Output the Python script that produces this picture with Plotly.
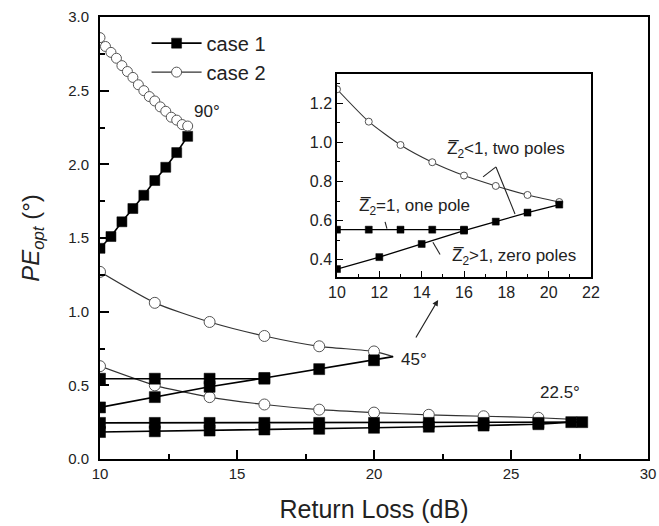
import plotly.graph_objects as go

# ---------------- data ----------------
# 90 degrees
x90_c1 = [10.0, 10.4, 10.8, 11.2, 11.6, 12.0, 12.4, 12.8, 13.2]
y90_c1 = [1.43, 1.51, 1.61, 1.70, 1.79, 1.89, 1.98, 2.08, 2.19]
x90_c2 = [10.0, 10.2, 10.4, 10.6, 10.8, 11.0, 11.2, 11.4, 11.6, 11.8, 12.0,
          12.2, 12.4, 12.6, 12.8, 13.0, 13.2]
y90_c2 = [2.86, 2.80, 2.76, 2.72, 2.67, 2.63, 2.59, 2.54, 2.50, 2.46, 2.43,
          2.39, 2.36, 2.32, 2.30, 2.27, 2.26]

# 45 degrees
x45_c2 = [10, 12, 14, 16, 18, 20, 20.7]
y45_c2 = [1.27, 1.06, 0.93, 0.835, 0.765, 0.73, 0.695]
x45_c1_one = [10, 12, 14, 16]
y45_c1_one = [0.545, 0.545, 0.545, 0.545]
x45_c1_zero = [10, 12, 14, 16, 18, 20, 20.7]
y45_c1_zero = [0.35, 0.42, 0.49, 0.55, 0.61, 0.67, 0.695]

# 22.5 degrees
x22_c2 = [10, 12, 14, 16, 18, 20, 22, 24, 26, 27.7]
y22_c2 = [0.63, 0.50, 0.42, 0.37, 0.335, 0.315, 0.30, 0.29, 0.28, 0.265]
x22_c1_one = [10, 12, 14, 16, 18, 20, 22, 24, 26, 27.6]
y22_c1_one = [0.245, 0.245, 0.245, 0.245, 0.245, 0.245, 0.245, 0.245, 0.245, 0.25]
x22_c1_zero = [10, 12, 14, 16, 18, 20, 22, 24, 26, 27.2]
y22_c1_zero = [0.183, 0.188, 0.193, 0.20, 0.205, 0.212, 0.219, 0.227, 0.236, 0.25]

# inset (45 degrees, magnified)
xi_c2 = [10, 11.5, 13, 14.5, 16, 17.5, 19, 20.5]
yi_c2 = [1.27, 1.105, 0.986, 0.898, 0.83, 0.777, 0.731, 0.695]
xi_c1_one = [10, 11.5, 13, 14.5, 16]
yi_c1_one = [0.554, 0.554, 0.554, 0.554, 0.554]
xi_c1_zero = [10, 12, 14, 16, 17.5, 19, 20.5]
yi_c1_zero = [0.353, 0.414, 0.481, 0.549, 0.595, 0.641, 0.682]

main_xticks = [10, 15, 20, 25, 30]
main_yticks = [0.0, 0.5, 1.0, 1.5, 2.0, 2.5, 3.0]
inset_xticks = [10, 12, 14, 16, 18, 20, 22]
inset_yticks = [0.4, 0.6, 0.8, 1.0, 1.2]

FONT = "Liberation Sans, Arial, sans-serif"
C1_LINE = dict(color="#000000", width=1.6)
C2_LINE = dict(color="#333333", width=1.2)


def sizes(n, s, last_hidden=False):
    out = [s] * n
    if last_hidden:
        out[-1] = 0
    return out


def sq(n, s, last_hidden=False):
    return dict(symbol="square", color="#000000", opacity=1, size=sizes(n, s, last_hidden),
                line=dict(color="#000000", width=0.5))


def ci(n, s, last_hidden=False):
    return dict(symbol="circle", color="#ffffff", opacity=1, size=sizes(n, s, last_hidden),
                line=dict(color="#555555", width=1))


fig = go.Figure()

# legend entries first
fig.add_trace(go.Scatter(x=x90_c1, y=y90_c1, mode="lines+markers", name="case 1",
                         legendgroup="c1", line=C1_LINE, marker=sq(len(x90_c1), 10)))
fig.add_trace(go.Scatter(x=x90_c2, y=y90_c2, mode="lines+markers", name="case 2",
                         legendgroup="c2", line=C2_LINE, marker=ci(len(x90_c2), 10)))

main = [
    (x45_c2, y45_c2, "c2", True, 11),
    (x22_c2, y22_c2, "c2", True, 11),
    (x45_c1_one, y45_c1_one, "c1", False, 11),
    (x45_c1_zero, y45_c1_zero, "c1", True, 11),
    (x22_c1_one, y22_c1_one, "c1", False, 11),
    (x22_c1_zero, y22_c1_zero, "c1", False, 11),
]
for xs, ys, grp, hide_last, s in main:
    if grp == "c1":
        fig.add_trace(go.Scatter(x=xs, y=ys, mode="lines+markers", showlegend=False,
                                 legendgroup=grp, line=C1_LINE, marker=sq(len(xs), s, hide_last)))
    else:
        fig.add_trace(go.Scatter(x=xs, y=ys, mode="lines+markers", showlegend=False,
                                 legendgroup=grp, line=dict(C2_LINE, shape="spline", smoothing=0.6),
                                 marker=ci(len(xs), s, hide_last)))

# inset
fig.add_trace(go.Scatter(x=xi_c2, y=yi_c2, mode="lines+markers", showlegend=False,
                         xaxis="x2", yaxis="y2",
                         line=dict(color="#333333", width=1.1, shape="spline", smoothing=0.6),
                         marker=ci(len(xi_c2), 7)))
fig.add_trace(go.Scatter(x=xi_c1_one, y=yi_c1_one, mode="lines+markers", showlegend=False,
                         xaxis="x2", yaxis="y2", line=dict(color="#000000", width=1.3),
                         marker=sq(len(xi_c1_one), 7)))
fig.add_trace(go.Scatter(x=xi_c1_zero, y=yi_c1_zero, mode="lines+markers", showlegend=False,
                         xaxis="x2", yaxis="y2", line=dict(color="#000000", width=1.3),
                         marker=sq(len(xi_c1_zero), 7)))

ax_common = dict(showline=True, linecolor="black", mirror=True, ticks="inside",
                 tickcolor="black", showgrid=False, zeroline=False)

fig.update_layout(
    width=659, height=526,
    margin=dict(l=100, r=11, t=17, b=67, autoexpand=False),
    paper_bgcolor="white", plot_bgcolor="white",
    font=dict(family=FONT, color="#222222"),
    xaxis=dict(ax_common, range=[10, 30], linewidth=2, ticklen=9, tickwidth=1.5,
               tickvals=main_xticks, tickfont=dict(size=15), automargin=False,
               minor=dict(ticks="inside", ticklen=5, dtick=2.5, tickcolor="black", tickwidth=1.5),
               title=dict(text="Return Loss (dB)", font=dict(size=25, color="#222222"), standoff=19)),
    yaxis=dict(ax_common, range=[0, 3], linewidth=2, ticklen=9, tickwidth=1.5,
               tickvals=main_yticks, tickformat=".1f", tickfont=dict(size=15),
               ticklabelstandoff=6, automargin=False,
               minor=dict(ticks="inside", ticklen=5, dtick=0.25, tickcolor="black", tickwidth=1.5),
               title=dict(text="<i>PE</i><sub><i>opt</i></sub> (°)",
                          font=dict(size=24, color="#222222"), standoff=22)),
    xaxis2=dict(ax_common, domain=[0.4325, 0.896], anchor="y2", range=[10, 22], linewidth=1.5,
                ticklen=6, tickvals=inset_xticks, tickfont=dict(size=16),
                minor=dict(ticks="inside", ticklen=3, dtick=1, tickcolor="black")),
    yaxis2=dict(ax_common, domain=[0.412, 0.871], anchor="x2", range=[0.313, 1.348], linewidth=1.5,
                ticklen=6, tickvals=inset_yticks, tickformat=".1f", tickfont=dict(size=16),
                minor=dict(ticks="inside", ticklen=3, dtick=0.1, tickcolor="black")),
    legend=dict(x=0.085, y=0.985, xanchor="left", yanchor="top", bgcolor="rgba(0,0,0,0)",
                font=dict(size=20, color="#222222"), itemwidth=50, tracegroupgap=0),
)

ann = [
    dict(x=13.9, y=2.36, xref="x", yref="y", text="90°", showarrow=False, font=dict(size=17)),
    dict(x=21.45, y=0.672, xref="x", yref="y", text="45°", showarrow=False, font=dict(size=17)),
    dict(x=26.8, y=0.45, xref="x", yref="y", text="22.5°", showarrow=False, font=dict(size=17)),
    dict(x=22.34, y=1.08, ax=21.42, ay=0.79, xref="x", yref="y", axref="x", ayref="y",
         text=" ", showarrow=True, arrowhead=2, arrowsize=1, arrowwidth=1.2, arrowcolor="#222"),
    dict(x=18.0, y=0.96, xref="x2", yref="y2", text="Z\u0305<sub>2</sub><1, two poles",
         showarrow=False, font=dict(size=17)),
    dict(x=13.64, y=0.67, xref="x2", yref="y2", text="Z\u0305<sub>2</sub>=1, one pole",
         showarrow=False, font=dict(size=17)),
    dict(x=18.34, y=0.415, xref="x2", yref="y2", text="Z\u0305<sub>2</sub>>1, zero poles",
         showarrow=False, font=dict(size=17)),
]
fig.update_layout(annotations=ann)

shapes = [
    dict(type="line", xref="x2", yref="y2", x0=17.51, y0=0.874, x1=16.9, y1=0.823,
         line=dict(color="#222", width=1.1)),
    dict(type="line", xref="x2", yref="y2", x0=17.51, y0=0.874, x1=18.41, y1=0.634,
         line=dict(color="#222", width=1.1)),
    dict(type="line", xref="x2", yref="y2", x0=12.27, y0=0.594, x1=12.36, y1=0.559,
         line=dict(color="#222", width=1.1)),
    dict(type="line", xref="x2", yref="y2", x0=14.53, y0=0.49, x1=14.87, y1=0.427,
         line=dict(color="#222", width=1.1)),
]
fig.update_layout(shapes=shapes)

fig.write_html("out.html")
